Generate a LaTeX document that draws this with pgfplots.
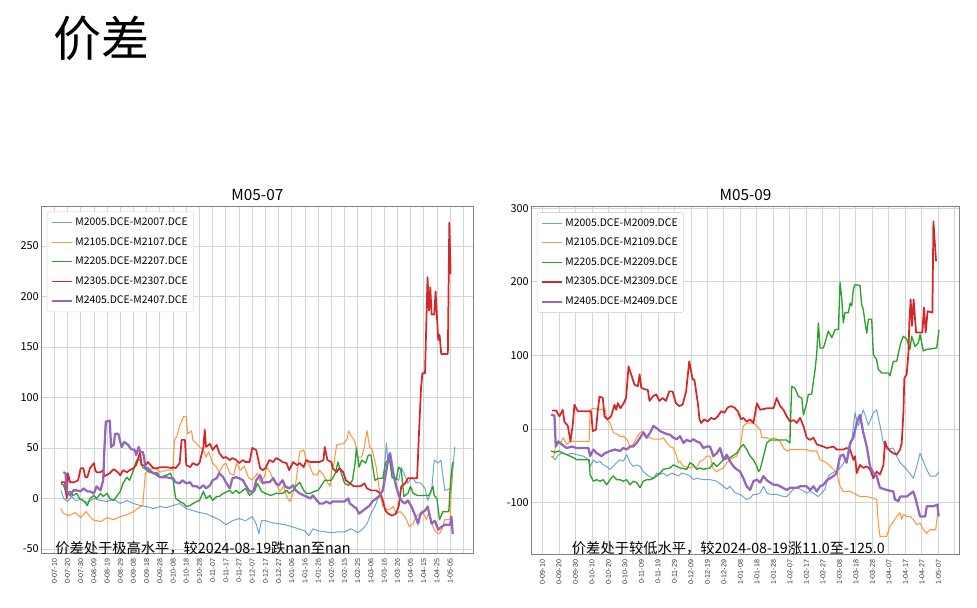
\documentclass[border=0pt]{standalone}
\usepackage{fontspec}
\setmainfont{Noto Sans CJK SC}
\newfontfamily\tickfont{Liberation Sans}
\usepackage{pgfplots}
\pgfplotsset{compat=1.18}
\definecolor{cA}{RGB}{31,119,180}
\definecolor{cB}{RGB}{255,127,14}
\definecolor{cC}{RGB}{44,160,44}
\definecolor{cD}{RGB}{214,39,40}
\definecolor{cE}{RGB}{148,103,189}
\pgfplotsset{
  mystyle/.style={
    scale only axis,
    axis line style={draw=black!50, line width=0.6pt},
    grid=major,
    major grid style={draw=black!17, line width=0.6pt},
    tick align=inside,
    tick pos=left,
    ytick style={draw=none},
    xtick style={draw=none},
    x tick label style={font=\tickfont\fontsize{5.3}{6}\selectfont, rotate=90, anchor=east, text=black!80, inner xsep=4.3pt},
    y tick label style={font=\fontsize{8.2}{9}\selectfont, inner xsep=2pt},
    /pgf/number format/assume math mode=true,
    legend style={anchor=north west, at={(0.012,0.984)}, draw=black!15, rounded corners=2pt,
      fill=white, font=\fontsize{7.8}{9}\selectfont, inner xsep=2.5pt, inner ysep=2.4pt,
      row sep=3.4pt, cells={anchor=west}},
    legend cell align=left,
    legend image code/.code={\draw[#1] (0pt,0pt) -- (15pt,0pt);},
    every axis plot/.append style={line join=round},
    sA/.style={color=cA, draw opacity=0.65, line width=0.75pt},
    sB/.style={color=cB, draw opacity=0.8, line width=0.8pt},
    sC/.style={color=cC, line width=1pt},
    sD/.style={color=cD, line width=1.3pt},
    sE/.style={color=cE, line width=1.7pt},
  }
}
\begin{document}
\begin{tikzpicture}
\useasboundingbox (0,0) rectangle (732.75pt,-455.25pt);
% ---------------- left axis ----------------
\begin{axis}[mystyle, at={(31.275pt,-414.75pt)}, anchor=south west,
  width=323.5pt, height=260.25pt,
  xmin=-9.6, xmax=317.4, ymin=-54, ymax=289.5,
  ytick={-50,0,50,100,150,200,250},
  xtick={0,10,...,310},
  xticklabels={0-07-10,0-07-20,0-07-30,0-08-09,0-08-19,0-08-29,0-09-08,0-09-18,0-09-28,0-10-08,0-10-18,0-10-28,0-11-07,0-11-17,0-11-27,0-12-07,0-12-17,0-12-27,1-01-06,1-01-16,1-01-26,1-02-05,1-02-15,1-02-25,1-03-06,1-03-16,1-03-26,1-04-05,1-04-15,1-04-25,1-05-05,{}},
]
\addplot[sA] coordinates {(5,8) (7,0) (10,-3) (13,2) (16,-2) (20,-1) (25,-4) (30,0) (35,-2) (40,-3) (45,-1) (50,-5) (55,-2) (60,-5) (65,-7) (70,-8) (75,-10) (80,-8) (85,-9) (90,-7) (95,-5) (100,-10) (105,-12) (110,-14) (115,-15) (120,-18) (125,-21) (130,-26) (135,-22) (140,-20) (145,-22) (150,-18) (153,-25) (155,-35) (157,-22) (160,-22) (165,-24) (170,-25) (175,-26) (180,-28) (185,-30) (190,-32) (193,-37) (196,-30) (200,-32) (205,-33) (210,-34) (215,-33) (220,-33) (225,-30) (230,-34) (234,-30) (237,-25) (240,-15) (243,-8) (246,2) (249,8) (251.7,55) (253,35) (255,45) (258,21) (261,18) (263,31) (266,22) (268,15) (271,21) (274,16) (278,15) (281,10) (283,-2) (286,8) (288,38) (291,35) (293,38) (296,8) (301,10) (303.5,51)};
\addlegendentry{M2005.DCE-M2007.DCE}
\addplot[sB] coordinates {(5,-10) (7,-15) (11,-17) (16,-14) (20,-19) (24,-13) (29,-21) (35,-23) (40,-19) (45,-21) (50,-18) (55,-16) (60,-13) (63,-10) (67,-7) (69,25) (72,28) (75,31) (80,26) (85,28) (90,28) (91,58) (93,62) (95,72) (98,81) (100,81) (101,64) (104,67) (105,58) (108,54) (110,51) (113,48) (115,41) (117,46) (120,35) (123,31) (125,26) (128,33) (130,35) (133,25) (136,23) (138,35) (141,28) (144,32) (147,21) (150,18) (154,25) (156,16) (159,21) (161,31) (164,25) (166,18) (169,12) (171,7) (174,12) (176,2) (178.5,-3) (181,5) (183,15) (186,46) (189,48) (191,38) (194,31) (196,24) (199,23) (201,28) (204,23) (206,18) (209,12) (210,26) (212,35) (214,53) (217,54) (219,54) (222,59) (223,67) (225,62) (228,56) (230,41) (233,41) (235,51) (237,67) (239,51) (241,48) (244,31) (246,12) (249,-8) (252,-11) (254,-11) (257,-8) (259,-15) (262,-13) (264,-15) (267,-21) (269,-28) (272,-25) (274,-18) (277,-15) (279,-12) (282,-21) (284,-13) (287,-28) (289,-33) (292,-35) (294,-30) (296,-21) (300,-21) (301.5,28)};
\addlegendentry{M2105.DCE-M2107.DCE}
\addplot[sC] coordinates {(5,15) (7,13) (9,5) (12,7) (14,3) (17,5) (19,0) (22,-2) (25,-7) (27,0) (30,3) (32,0) (35,5) (37,2) (40,5) (42,0) (45,-2) (50,7) (52,15) (55,21) (57,18) (60,28) (62.4,38) (65,38) (67,31) (70,28) (72,26) (75,25) (80,21) (85,23) (88,25) (90,18) (92,0) (95,-3) (98,-5) (100,-8) (103,-7) (105,-5) (108,-3) (110,-2) (113,7) (115,0) (118,3) (120,-2) (123,2) (125,2) (128,5) (133,8) (135,5) (138,8) (140,5) (145,10) (148,3) (152,8) (154,15) (157,7) (160,5) (164,3) (168,5) (173,5) (176,8) (178,5) (181,8) (183,12) (186,16) (189,8) (191,5) (194,5) (197,7) (200,8) (205,18) (208,18) (210,18) (213,25) (215,36) (218,23) (220,15) (223,13) (226,18) (228,35) (229,50) (231,31) (233,38) (236,35) (238,43) (240,43) (243,18) (246,20) (249,20) (251,35) (254,40) (256,21) (259,18) (261,31) (263,28) (265,2) (268,5) (270,12) (272,5) (275,3) (278,3) (281,3) (284,3) (287,12) (288,3) (290,0) (292,-21) (294.5,-13) (299,-13) (300.5,20) (302,36)};
\addlegendentry{M2205.DCE-M2207.DCE}
\addplot[sD] coordinates {(5,16) (8,16) (9.4,0) (10.2,25) (12,16) (15,16) (18,18) (20,30) (22,30) (23.5,21) (25,21) (27,30) (30,35) (31,28) (32,26) (35,26) (37,28) (38,22) (42,25) (45,29) (48,26) (50,23) (52,28) (55,26) (57,28) (60,30) (62,33) (65,46) (66,33) (69,33) (71,36) (75,30) (78,30) (80,31) (85,31) (89,30) (90,31) (92,30) (95,35) (96.5,58) (99,58) (100,33) (103,31) (105,35) (108,33) (110,35) (113,51) (114,68) (115,51) (118,54) (120,48) (123,53) (125,45) (128,40) (130,41) (133,38) (135,40) (138,38) (140,35) (143,38) (145,36) (148,36) (150,50) (153,48) (156,30) (158,28) (160,30) (163,38) (166,36) (168,40) (171,38) (173,36) (176,35) (178,28) (181,36) (184,33) (186,35) (189,31) (191,38) (194,36) (197,36) (201,36) (204,38) (205,51) (207,38) (210,36) (211,30) (214,26) (216,30) (219,26) (221,18) (224,15) (227,12) (232,12) (235,15) (237,10) (240,8) (244,8) (247,5) (249,-2) (251,-12) (253,-15) (256,-17) (259,-15) (261,-8) (263,12) (266,15) (268,20) (275,20) (276.5,67) (278,110) (279,124) (281,124) (282.9,219) (284,186) (285,209) (286,182) (288,182) (289,205) (291,157) (292,162) (293.3,143) (298.3,143) (299.4,273) (300.4,222)};
\addlegendentry{M2305.DCE-M2307.DCE}
\addplot[sE] coordinates {(6.8,26) (8.5,25) (9.3,8) (10.5,5) (12,3) (14.5,8) (17,8) (20,7) (22,10) (25,7) (27,7) (30,5) (32,12) (35,8) (37,18) (38,51) (39,76) (42,77) (43,51) (45,53) (46,64) (48.5,64) (50,56) (51,51) (53,56) (56,53) (58,49) (61,48) (62,43) (64,51) (65,46) (67,46) (68,41) (69,30) (71,30) (72,28) (75,25) (78,25) (80,21) (85,21) (88,20) (90,20) (92,16) (95,15) (97,18) (100,15) (103,16) (105,12) (108,12) (110,10) (113,13) (115,10) (118,13) (120,18) (123,20) (125,25) (128,21) (130,16) (133,10) (135,20) (138,21) (140,20) (143,18) (145,13) (148,7) (151,7) (153,18) (156,23) (158,15) (160,16) (163,16) (166,20) (168,15) (170,13) (173,18) (175,12) (178,10) (181,13) (183,8) (186,5) (189,3) (191,2) (194,0) (196,3) (199,-2) (201,-5) (204,-5) (206,-3) (209,-5) (211,-3) (214,-3) (217,-3) (220,-3) (222.7,0) (224,-5) (227,-8) (229,-10) (231,-15) (234,-12) (236,-10) (239,-7) (241,-3) (244,0) (246,2) (249,8) (251.7,28) (253,38) (254.3,45) (256,30) (258,18) (260.6,5) (263,-2) (265.6,-5) (268,-2) (270.7,-8) (273,-15) (275.7,-25) (277,-18) (278,-15) (281,-12) (283,-8) (286,-25) (288.5,-22) (291,-31) (293.5,-28) (296,-26) (300,-26) (301,-18) (302,-35)};
\addlegendentry{M2405.DCE-M2407.DCE}
\end{axis}
% ---------------- right axis ----------------
\begin{axis}[mystyle, at={(398.775pt,-415.5pt)}, anchor=south west,
  width=320.7pt, height=260.5pt,
  xmin=-6.5, xmax=252.7, ymin=-170, ymax=302,
  ytick={-100,0,100,200,300},
  xtick={0,10,...,250},
  xticklabels={0-09-10,0-09-20,0-09-30,0-10-10,0-10-20,0-10-30,0-11-09,0-11-19,0-11-29,0-12-09,0-12-19,0-12-29,1-01-08,1-01-18,1-01-28,1-02-07,1-02-17,1-02-27,1-03-08,1-03-18,1-03-28,1-04-07,1-04-17,1-04-27,1-05-07,{}},
]
\addplot[sA] coordinates {(5.7,-37) (7.7,-42) (9.7,-35) (11.7,-33) (14.7,-35) (17.8,-33) (20.8,-35) (24.8,-37) (27.9,-42) (28.9,-51) (30.9,-42) (32.9,-46) (34.9,-44) (36.9,-49) (38.9,-51) (40.9,-55) (42.9,-51) (44.9,-46) (47,-42) (49,-44) (51.1,-35) (53.1,-46) (55.1,-51) (57.1,-49) (59.2,-51) (61.2,-58) (64.2,-64) (67.3,-67) (69.3,-60) (71.3,-62) (73.3,-60) (75.4,-64) (78.4,-60) (80.4,-62) (82.4,-64) (84.4,-60) (87.5,-62) (89.5,-64) (91.5,-69) (93.5,-67) (97.6,-69) (101.6,-69) (105.7,-71) (109.7,-78) (111.7,-82) (113.7,-78) (116.8,-87) (119.8,-89) (123.8,-96) (125.9,-94) (127.9,-89) (130,-89) (132,-87) (134,-78) (136,-87) (138.1,-89) (142.1,-89) (146.1,-92) (148.1,-92) (150.1,-87) (152.2,-82) (154.2,-80) (156.2,-82) (160.2,-87) (162.2,-85) (165.3,-89) (167.3,-92) (169.3,-87) (171.3,-82) (173.4,-64) (175.4,-60) (177.4,-58) (179.4,-55) (181.4,-51) (183.5,-42) (185.5,-37) (187.5,-15) (189.5,22) (191.5,4) (194.5,26) (197.6,5) (200.6,22) (202.6,26) (204.6,5) (206.7,-19) (208.7,-28) (212.7,-26) (214.8,-37) (216.8,-46) (220.8,-55) (224.8,-67) (226.9,-51) (228.9,-33) (230.9,-44) (232.9,-55) (234.9,-64) (238.4,-64) (240.4,-58)};
\addlegendentry{M2005.DCE-M2009.DCE}
\addplot[sB] coordinates {(5.3,-37) (6.7,-39) (8.1,-21) (10.7,-19) (12.7,-12) (14.7,-21) (16.8,-17) (22.8,-17) (28.3,-17) (28.9,26) (30.9,28) (34.9,26) (37.9,28) (38.9,13) (41,8) (43,-5) (45,-7) (47,-10) (49,-10) (51.1,-14) (53.1,-24) (55.1,-21) (57.1,-12) (59.2,-5) (61.2,-3) (63.2,-10) (65.3,-12) (67.3,-14) (71.3,-14) (73.3,-12) (75.4,-19) (77.4,-24) (79.4,-26) (81.4,-37) (82.4,-46) (83.4,-44) (85.5,-51) (89.5,-53) (91.5,-51) (93.5,-53) (95.6,-44) (97.6,-42) (99.6,-37) (101.6,-37) (103.6,-55) (105.7,-58) (107.7,-55) (109.7,-53) (111.7,-46) (113.7,-42) (115.8,-39) (117.8,-37) (119.8,-26) (121.8,4) (123.8,8) (127.9,8) (130,4) (132,-1) (133,-12) (136,-12) (138.1,-14) (140.1,-12) (142.1,-14) (144.1,-17) (146.1,-26) (148,-30) (150.1,-28) (154,-28) (160,-28) (162.2,-30) (166.3,-30) (168.3,-42) (172.3,-46) (176.4,-55) (178.4,-60) (180.4,-78) (182.4,-85) (186.5,-85) (188.5,-87) (192.5,-92) (196.6,-92) (200.6,-94) (202.6,-96) (203.6,-128) (204.6,-146) (208.7,-146) (210.7,-132) (212.7,-126) (214.8,-119) (216.8,-114) (217.8,-123) (218.8,-116) (220.8,-119) (222.8,-119) (224.8,-123) (226.9,-130) (228.9,-128) (230.9,-137) (232.9,-142) (234.9,-137) (238.4,-137) (240.2,-101)};
\addlegendentry{M2105.DCE-M2109.DCE}
\addplot[sC] coordinates {(5.3,-30) (7.7,-32) (9.7,-30) (12.7,-33) (16.8,-37) (18.8,-39) (20.8,-42) (28.3,-42) (28.9,-62) (30.9,-71) (32.9,-69) (34.9,-71) (36.9,-69) (38.9,-76) (41,-69) (43,-64) (45,-69) (47,-69) (49,-71) (51.1,-69) (53.1,-76) (55.1,-71) (57.1,-73) (59.2,-80) (61.2,-71) (63.2,-69) (65.3,-69) (67.3,-67) (69.3,-64) (71.3,-60) (73.3,-55) (77.4,-53) (79.4,-49) (81.4,-51) (83.4,-53) (87.5,-55) (89.5,-46) (91.5,-49) (93.5,-55) (95.6,-53) (97.6,-55) (101.6,-53) (103.6,-46) (105.7,-51) (109.7,-42) (113.7,-39) (117.8,-33) (119.8,-26) (121.8,-21) (123.8,-28) (125.9,-37) (127.9,-42) (130,-51) (131,-58) (132,-55) (134,-37) (136,-19) (138.1,-15) (148,-15) (150,-19) (151.1,58) (153.1,55) (155.2,44) (157.2,42) (158.2,19) (160.2,35) (161.2,47) (163.2,47) (165.3,81) (166.3,103) (167.3,144) (168.3,110) (170.3,110) (171.3,117) (173.3,133) (175.4,124) (177.4,135) (179.4,135) (180.4,199) (181.4,178) (182.4,144) (183.4,158) (185.5,158) (186.5,171) (187.5,167) (188.5,190) (189.5,196) (192.5,195) (193.5,169) (194.5,162) (195.6,144) (196.6,130) (197.6,149) (199.6,149) (200.6,101) (202.6,94) (203.6,81) (205.7,76) (209.7,76) (210.7,72) (212.7,92) (214.8,92) (215.8,103) (217.2,117) (218.8,126) (220.8,122) (222.8,108) (223.8,126) (225.9,112) (227.9,117) (228.9,128) (230.9,106) (232.9,108) (239,110) (240.4,135)};
\addlegendentry{M2205.DCE-M2209.DCE}
\addplot[sD] coordinates {(5.9,25) (8.3,25) (10.3,17) (12.3,26) (13.3,10) (15.4,4) (17,-17) (18.4,6) (19.4,33) (21.4,24) (29.5,24) (30.5,-3) (32.5,-1) (33.5,24) (34.6,44) (36.6,42) (37.6,17) (39.6,13) (41.6,17) (43.7,33) (44.7,26) (45.7,35) (47.3,28) (49.3,35) (50.7,42) (52.2,85) (53.8,74) (55.8,60) (57.8,58) (58.9,74) (59.9,56) (61.9,54) (63.9,53) (64.9,38) (66.9,44) (68.9,47) (70.9,38) (72.9,42) (74.9,38) (76.9,51) (78.9,51) (80.9,35) (83,31) (85,33) (87.1,51) (89,92) (91.1,67) (92.1,67) (94.2,35) (95.2,13) (96.2,8) (98.2,13) (100.2,10) (102.3,15) (104.3,13) (106.3,17) (108.3,24) (110.3,22) (112.3,29) (114.4,31) (116.4,29) (118.4,24) (120.4,13) (121.8,15) (123.8,10) (125.9,13) (127.9,8) (130,35) (132,26) (136,28) (140.1,28) (142,42) (144.1,31) (146.1,26) (148.1,17) (150.1,10) (152.2,12) (154.2,8) (156.2,15) (158.2,4) (160.2,-12) (162.2,-15) (164.3,-12) (166.3,-21) (170.3,-24) (172.3,-26) (176.4,-24) (178.4,-28) (182.4,-28) (184.4,-26) (186.5,-28) (188.5,-42) (189.5,-37) (190.5,-60) (192.5,-49) (194.5,-53) (196.6,-51) (198.6,-55) (200.6,-67) (202.6,-58) (204.6,-62) (206.7,-49) (207.7,-17) (208.7,-24) (210.7,-30) (212.7,-33) (214.8,-35) (216.8,-28) (217.8,-19) (218.8,22) (219.4,69) (220.8,74) (221.8,101) (222.4,144) (223.2,176) (224,140) (225,176) (226.5,131) (230.3,131) (231.3,165) (232.3,131) (233.5,160) (236.4,158) (237,282) (238.6,228)};
\addlegendentry{M2305.DCE-M2309.DCE}
\addplot[sE] coordinates {(5.3,19.5) (7.3,18) (8.1,-24) (9.7,-17) (11.7,-21) (14.7,-26) (17.8,-24) (20.8,-26) (24.8,-26) (27.9,-26) (28.9,-37) (30.9,-28) (32.9,-33) (35.9,-37) (37.9,-33) (41,-30) (44,-28) (47,-30) (49,-26) (51.1,-28) (53.1,-24) (55.1,-24) (57.1,-19) (59.2,-12) (61.2,-5) (63.2,-12) (65.3,-5) (67.3,4) (69.3,1) (71.3,-3) (73.3,-5) (75.4,-7) (77.4,-8) (79.4,-12) (81.4,-14) (83.4,-10) (85.5,-19) (87.5,-15) (89.5,-17) (91.5,-14) (93.5,-17) (95.6,-19) (97.6,-26) (99.6,-24) (101.6,-24) (103.6,-37) (105.7,-33) (107.7,-26) (109.7,-42) (111.7,-35) (113.7,-44) (115.8,-51) (117.8,-55) (119.8,-58) (121.8,-67) (123.8,-78) (125.9,-83) (127.9,-71) (130,-69) (132,-73) (134,-64) (136,-70) (138.1,-73) (140.1,-76) (142.1,-76) (144.1,-78) (148.1,-83) (150.1,-80) (154.2,-80) (156.2,-78) (160.2,-78) (162.2,-83) (164.3,-78) (166.3,-85) (168.3,-78) (170.3,-76) (172.3,-70) (176.4,-64) (178.4,-60) (180.4,-37) (182.4,-35) (184.4,-46) (186.5,-19) (188.5,-12) (190.5,8) (192.5,19) (194.5,-5) (196.6,-24) (198.6,-51) (200.6,-60) (202.6,-64) (204.6,-80) (208.7,-83) (212.7,-85) (213.7,-96) (215.8,-98) (216.8,-92) (220.8,-92) (224.8,-85) (225.8,-92) (226.9,-101) (228.9,-119) (232,-119) (233,-105) (237,-105) (239.4,-103) (240.2,-119)};
\addlegendentry{M2405.DCE-M2409.DCE}
\end{axis}
% ---------------- texts ----------------
\begin{scope}[x=0.75pt,y=-0.75pt]
\node[anchor=west, inner sep=0pt, font=\fontsize{36}{40}\selectfont] at (53,38) {价差};
\node[font=\fontsize{11.5}{13}\selectfont, inner sep=0pt] at (257.4,195) {M05-07};
\node[font=\fontsize{11.5}{13}\selectfont, inner sep=0pt] at (745.5,195) {M05-09};
\node[anchor=west, inner sep=0pt, font=\fontsize{10.7}{13}\selectfont] at (55,548) {价差处于极高水平，较2024-08-19跌nan至nan};
\node[anchor=west, inner sep=0pt, font=\fontsize{10.7}{13}\selectfont] at (571.7,548) {价差处于较低水平，较2024-08-19涨11.0至-125.0};
\end{scope}
\end{tikzpicture}
\end{document}
